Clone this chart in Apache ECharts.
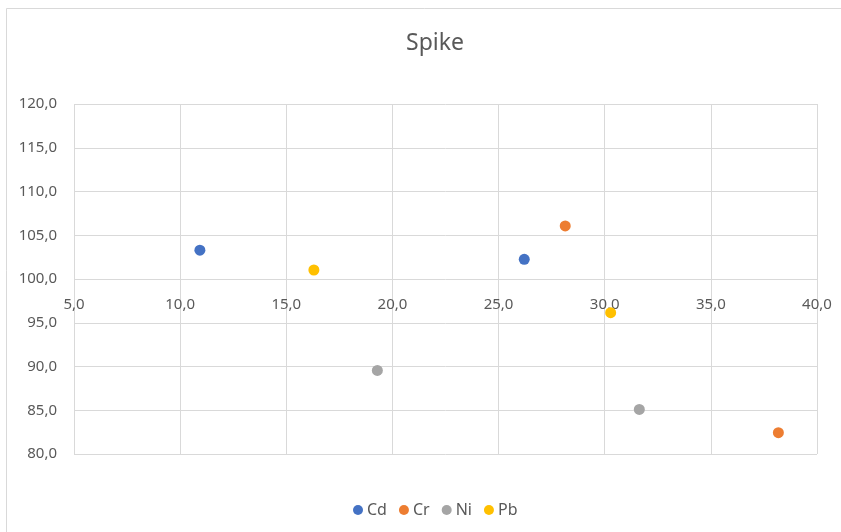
<!DOCTYPE html>
<html>
<head>
<meta charset="utf-8">
<script src="https://cdn.jsdelivr.net/npm/echarts@6/dist/echarts.min.js"></script>
<style>
  html, body { margin: 0; padding: 0; background: #fff; }
  #chart { width: 841px; height: 532px; }
</style>
</head>
<body>
<div id="chart"></div>
<script>
// Spike recovery points per element: [x, y]
const seriesNames = ['Cd', 'Cr', 'Ni', 'Pb'];
const cdPoints = [[10.93, 103.3], [26.21, 102.25]];
const crPoints = [[28.14, 106.06], [38.18, 82.44]];
const niPoints = [[19.29, 89.55], [31.63, 85.1]];
const pbPoints = [[16.30, 101.03], [30.28, 96.15]];
const seriesColors = ['#4472C4', '#ED7D31', '#A5A5A5', '#FFC000'];

const FONT = 'Noto Sans';
const TEXT = '#595959';
const GRID = '#d9d9d9';

const chart = echarts.init(document.getElementById('chart'), null, { renderer: 'canvas' });
const allPoints = [cdPoints, crPoints, niPoints, pbPoints];

chart.setOption({
  backgroundColor: '#fff',
  animation: false,
  title: {
    text: 'Spike',
    left: 430,
    textAlign: 'center',
    top: 27,
    textStyle: { fontFamily: FONT, fontSize: 23, fontWeight: 'normal', color: TEXT }
  },
  graphic: [{
    type: 'rect',
    shape: { x: 6.5, y: 8.5, width: 900, height: 600 },
    style: { fill: 'none', stroke: GRID, lineWidth: 1 },
    silent: true
  }],
  legend: {
    bottom: 9,
    left: 348,
    icon: 'circle',
    itemWidth: 10,
    itemHeight: 10,
    itemGap: 12,
    textStyle: { fontFamily: FONT, fontSize: 16, color: TEXT, padding: [0, 0, 0, -1] },
    data: seriesNames
  },
  grid: { left: 74, right: 24, top: 104, bottom: 78 },
  xAxis: {
    type: 'value',
    min: 5, max: 40, interval: 5,
    offset: -174,
    axisLine: { show: false },
    axisTick: { show: false },
    splitLine: { show: true, lineStyle: { color: GRID, width: 1 } },
    axisLabel: {
      fontFamily: FONT, fontSize: 15, color: TEXT, margin: 17,
      formatter: v => v.toFixed(1).replace('.', ',')
    }
  },
  yAxis: {
    type: 'value',
    min: 80, max: 120, interval: 5,
    axisLine: { show: false },
    axisTick: { show: false },
    splitLine: { show: true, lineStyle: { color: GRID, width: 1 } },
    axisLabel: {
      fontFamily: FONT, fontSize: 15, color: TEXT, margin: 17,
      formatter: v => v.toFixed(1).replace('.', ',')
    }
  },
  series: seriesNames.map((name, i) => ({
    name,
    type: 'scatter',
    symbol: 'circle',
    symbolSize: 11,
    itemStyle: { color: seriesColors[i], opacity: 1 },
    data: allPoints[i]
  }))
});
</script>
</body>
</html>
